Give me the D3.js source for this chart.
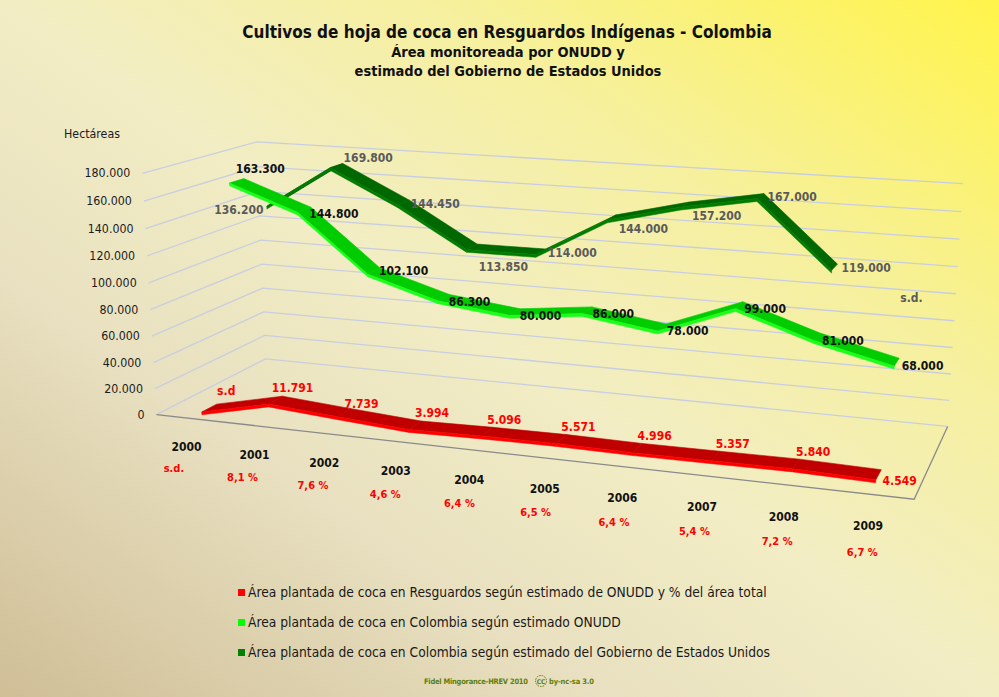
<!DOCTYPE html>
<html>
<head>
<meta charset="utf-8">
<script src="https://cdn.jsdelivr.net/npm/d3@7"></script>
<style>
html, body { margin: 0; padding: 0; overflow: hidden; }
svg { display: block; font-family: "DejaVu Sans Condensed", "DejaVu Sans", sans-serif; }
</style>
</head>
<body>
<svg id="chart" width="999" height="697"></svg>
<script>
// ---- data ----
const years = ["2000", "2001", "2002", "2003", "2004", "2005", "2006", "2007", "2008", "2009"];
// Resguardos (ONUDD); 2000 sin datos ("s.d"), la cinta arranca en 0
const resguardos = [0, 11791, 7739, 3994, 5096, 5571, 4996, 5357, 5840, 4549];
const resguardosPct = [null, 8.1, 7.6, 4.6, 6.4, 6.5, 6.4, 5.4, 7.2, 6.7];
const colombiaOnudd = [163300, 144800, 102100, 86300, 80000, 86000, 78000, 99000, 81000, 68000];
const colombiaUsa = [136200, 169800, 144450, 113850, 114000, 144000, 157200, 167000, 119000, null];
const yTicks = [0, 20000, 40000, 60000, 80000, 100000, 120000, 140000, 160000, 180000];
const legendLabels = [
    "Área plantada de coca en Resguardos según estimado de ONUDD y % del área total",
    "Área plantada de coca en Colombia según estimado ONUDD",
    "Área plantada de coca en Colombia según estimado del Gobierno de Estados Unidos"
];

const width = 999, height = 697;
const svg = d3.select("#chart");

const loc = d3.formatLocale({ decimal: ",", thousands: ".", grouping: [3], currency: ["", ""] });
const fmt = loc.format(",d");
const fmtPct = loc.format(",.1f");

// background
const grad = svg.append("defs").append("linearGradient")
    .attr("id", "bg").attr("x1", 0).attr("y1", 1).attr("x2", 1).attr("y2", 0);
[[0, "#cfbe96"], [0.3, "#e8e0c0"], [0.5, "#f2edc4"], [0.72, "#f6f09e"], [1, "#fff44a"]]
    .forEach(([o, c]) => grad.append("stop").attr("offset", o).attr("stop-color", c));
svg.append("rect").attr("width", width).attr("height", height).attr("fill", "url(#bg)");

// ---- perspective camera fitted to the corners of the plot box ----
// world: X 0..10 (categories), Y 0..1 (value), Z 0 front .. 1 back
const boxCorners = [
    [0, 0, 1, 266, 358], [0, 1, 1, 257, 141],
    [10, 0, 1, 947, 429], [10, 1, 1, 963, 183],
    [0, 0, 0, 156, 415], [0, 1, 0, 142, 175],
    [10, 0, 0, 915, 497]
];

function fitCamera(pts) {
    const rows = [], rhs = [];
    pts.forEach(([X, Y, Z, u, v]) => {
        const a = X / 10, uu = (u - 500) / 500, vv = (v - 350) / 500;
        rows.push([a, Y, Z, 1, 0, 0, 0, 0, -uu * a, -uu * Y, -uu * Z]); rhs.push(uu);
        rows.push([0, 0, 0, 0, a, Y, Z, 1, -vv * a, -vv * Y, -vv * Z]); rhs.push(vv);
    });
    const n = 11;
    const M = d3.range(n).map(i => d3.range(n + 1).map(j =>
        j < n ? d3.sum(rows, r => r[i] * r[j]) : d3.sum(rows, (r, k) => r[i] * rhs[k])));
    for (let c = 0; c < n; c++) {
        let piv = c;
        for (let r = c + 1; r < n; r++) if (Math.abs(M[r][c]) > Math.abs(M[piv][c])) piv = r;
        [M[c], M[piv]] = [M[piv], M[c]];
        for (let r = 0; r < n; r++) {
            if (r === c) continue;
            const f = M[r][c] / M[c][c];
            for (let j = c; j <= n; j++) M[r][j] -= f * M[c][j];
        }
    }
    return M.map((row, i) => row[n] / row[i]);
}
const P = fitCamera(boxCorners);

function project(X, Y, Z) {
    const a = X / 10;
    const d = P[8] * a + P[9] * Y + P[10] * Z + 1;
    return [
        (P[0] * a + P[1] * Y + P[2] * Z + P[3]) / d * 500 + 500,
        (P[4] * a + P[5] * Y + P[6] * Z + P[7]) / d * 500 + 350
    ];
}

const x = d3.scalePoint().domain(years).range([0.5, 9.5]);
const y = d3.scaleLinear().domain([0, 180000]).range([0, 1]);
const line = d3.line();

// gridlines: left wall + back wall
svg.append("g").selectAll("path")
    .data(yTicks)
    .enter().append("path")
    .attr("d", t => line([project(0, y(t), 0), project(0, y(t), 1), project(10, y(t), 1)]))
    .attr("fill", "none")
    .attr("stroke", "#c9cedf")
    .attr("stroke-width", 1.3);

// floor edges
svg.append("path")
    .attr("d", line([project(0, 0, 0), project(10, 0, 0), project(10, 0, 1)]))
    .attr("fill", "none")
    .attr("stroke", "#8a8a8a")
    .attr("stroke-width", 1.3);

// y axis labels
svg.append("g").selectAll("text")
    .data(yTicks)
    .enter().append("text")
    .attr("x", t => project(0, y(t), 0)[0] - 12)
    .attr("y", t => project(0, y(t), 0)[1] + 4)
    .attr("text-anchor", "end")
    .style("font-size", "12.3px")
    .attr("fill", "#1a1a22")
    .text(t => fmt(t));

svg.append("text")
    .attr("x", 64).attr("y", 138)
    .style("font-size", "12.3px")
    .attr("fill", "#1a1a22")
    .text("Hectáreas");

// ---- ribbons ----
// label placement: default offset, vertical nudges per point (layout only)
const series = [
    { values: colombiaUsa, z: 5 / 6, top: "#006800", under: "#005200", front: "#007c00", label: "#5a5a5a",
      dx: 7, dy: 5, anchor: "start", nudge: [8, -9, 0, 19, 0, 11, 10, 0, 0],
      first: { dx: -10, dy: 10, anchor: "end" } },
    { values: colombiaOnudd, z: 0.5, top: "#00cc00", under: "#00b000", front: "#1aff1a", label: "#111",
      dx: 5, dy: 8, anchor: "start", nudge: [0, 0, -4, 0, 0, 0, 0, 0, 0, 0],
      first: { dx: -1, dy: -8, anchor: "start" } },
    { values: resguardos, z: 1 / 6, top: "#c00000", under: "#a80000", front: "#ff0000", label: "#ff0000",
      dx: 17, dy: -8, anchor: "middle", nudge: [-5, 0, 3, 0, 0, 0, 0, 0, 0, 0],
      last: { dx: 4, dy: 10, anchor: "start" } }
];
const halfDepth = 0.065, thick = 0.012;

series.forEach(s => {
    const g = svg.append("g");
    const z1 = s.z - halfDepth, z2 = s.z + halfDepth;
    const segs = d3.pairs(years.map((yr, i) => ({ yr, v: s.values[i] })))
        .filter(([a, b]) => a.v != null && b.v != null);
    segs.forEach(([a, b]) => {
        const xa = x(a.yr), xb = x(b.yr), ya = y(a.v), yb = y(b.v);
        const topFace = [project(xa, ya, z1), project(xb, yb, z1), project(xb, yb, z2), project(xa, ya, z2)];
        const seenFromAbove = d3.polygonArea(topFace) > 0;
        g.append("path")
            .attr("d", line(topFace) + "Z")
            .attr("fill", seenFromAbove ? s.top : s.under)
            .attr("stroke", seenFromAbove ? s.top : s.under)
            .attr("stroke-width", 0.6);
        const frontFace = [project(xa, ya, z1), project(xb, yb, z1), project(xb, yb - thick, z1), project(xa, ya - thick, z1)];
        g.append("path")
            .attr("d", line(frontFace) + "Z")
            .attr("fill", s.front)
            .attr("stroke", s.front)
            .attr("stroke-width", 0.5);
    });
});

// data labels
series.forEach((s, si) => {
    const pts = years.map((yr, i) => ({ yr, v: s.values[i], i })).filter(d => d.v != null);
    const place = (d, i) => (i === 0 && s.first) || (i === pts.length - 1 && s.last) || s;
    svg.append("g").selectAll("text")
        .data(pts)
        .enter().append("text")
        .attr("x", (d, i) => project(x(d.yr), y(d.v), s.z)[0] + place(d, i).dx)
        .attr("y", (d, i) => project(x(d.yr), y(d.v), s.z)[1] + place(d, i).dy + (place(d, i) === s ? s.nudge[d.i] : 0))
        .attr("text-anchor", (d, i) => place(d, i).anchor)
        .style("font-size", "12px")
        .style("font-weight", "bold")
        .attr("fill", s.label)
        .text(d => (si === 2 && d.yr === "2000") ? "s.d" : fmt(d.v));
});
// dark green series has no 2009 estimate
const sdPos = project(x("2009"), y(100000), 5 / 6);
svg.append("text")
    .attr("x", sdPos[0]).attr("y", sdPos[1] + 3)
    .attr("text-anchor", "middle")
    .style("font-size", "12px").style("font-weight", "bold")
    .attr("fill", "#5a5a5a")
    .text("s.d.");

// category labels and percentages
svg.append("g").selectAll("text")
    .data(years)
    .enter().append("text")
    .attr("x", d => project(x(d), -0.11, -0.04)[0])
    .attr("y", d => project(x(d), -0.11, -0.04)[1] + 4)
    .attr("text-anchor", "middle")
    .style("font-size", "12px").style("font-weight", "bold")
    .attr("fill", "#111")
    .text(d => d);

svg.append("g").selectAll("text")
    .data(years.map((yr, i) => ({ yr, p: resguardosPct[i] })))
    .enter().append("text")
    .attr("x", d => project(x(d.yr), -0.17, -0.15)[0])
    .attr("y", d => project(x(d.yr), -0.17, -0.15)[1] + 4)
    .attr("text-anchor", "middle")
    .style("font-size", "11px").style("font-weight", "bold")
    .attr("fill", "#ff0000")
    .text(d => d.p == null ? "s.d." : fmtPct(d.p) + " %");

// title
const title = svg.append("g").attr("fill", "#111").style("font-weight", "bold").attr("text-anchor", "middle");
title.append("text").attr("x", 507).attr("y", 38).style("font-size", "17px")
    .text("Cultivos de hoja de coca en Resguardos Indígenas - Colombia");
title.append("text").attr("x", 508).attr("y", 57).style("font-size", "14.5px")
    .text("Área monitoreada por ONUDD y");
title.append("text").attr("x", 508).attr("y", 76).style("font-size", "14.5px")
    .text("estimado del Gobierno de Estados Unidos");

// legend
const legendColors = ["#ff0000", "#00ff00", "#008000"];
const legend = svg.append("g").attr("transform", "translate(238,589)");
legend.selectAll("rect")
    .data(legendLabels)
    .enter().append("rect")
    .attr("x", 0).attr("y", (d, i) => i * 30)
    .attr("width", 7).attr("height", 7)
    .attr("fill", (d, i) => legendColors[i]);
legend.selectAll("text")
    .data(legendLabels)
    .enter().append("text")
    .attr("x", 10).attr("y", (d, i) => i * 30 + 8)
    .style("font-size", "13.7px")
    .attr("fill", "#1a1a1a")
    .text(d => d);

// footer
const footColor = "#5f7f0c";
const foot = svg.append("g").attr("fill", footColor)
    .style("font-size", "7.5px").style("font-weight", "bold");
foot.append("text").attr("x", 424).attr("y", 684)
    .attr("textLength", 104).attr("lengthAdjust", "spacing")
    .text("Fidel Mingorance-HREV 2010");
foot.append("circle").attr("cx", 541).attr("cy", 681).attr("r", 5.5)
    .attr("fill", "none").attr("stroke", footColor).attr("stroke-dasharray", "1.6,1");
foot.append("text").attr("x", 541).attr("y", 683.5).attr("text-anchor", "middle")
    .style("font-size", "6.5px").text("CC");
foot.append("text").attr("x", 549).attr("y", 684)
    .attr("textLength", 45).attr("lengthAdjust", "spacing")
    .text("by-nc-sa 3.0");
</script>
</body>
</html>
